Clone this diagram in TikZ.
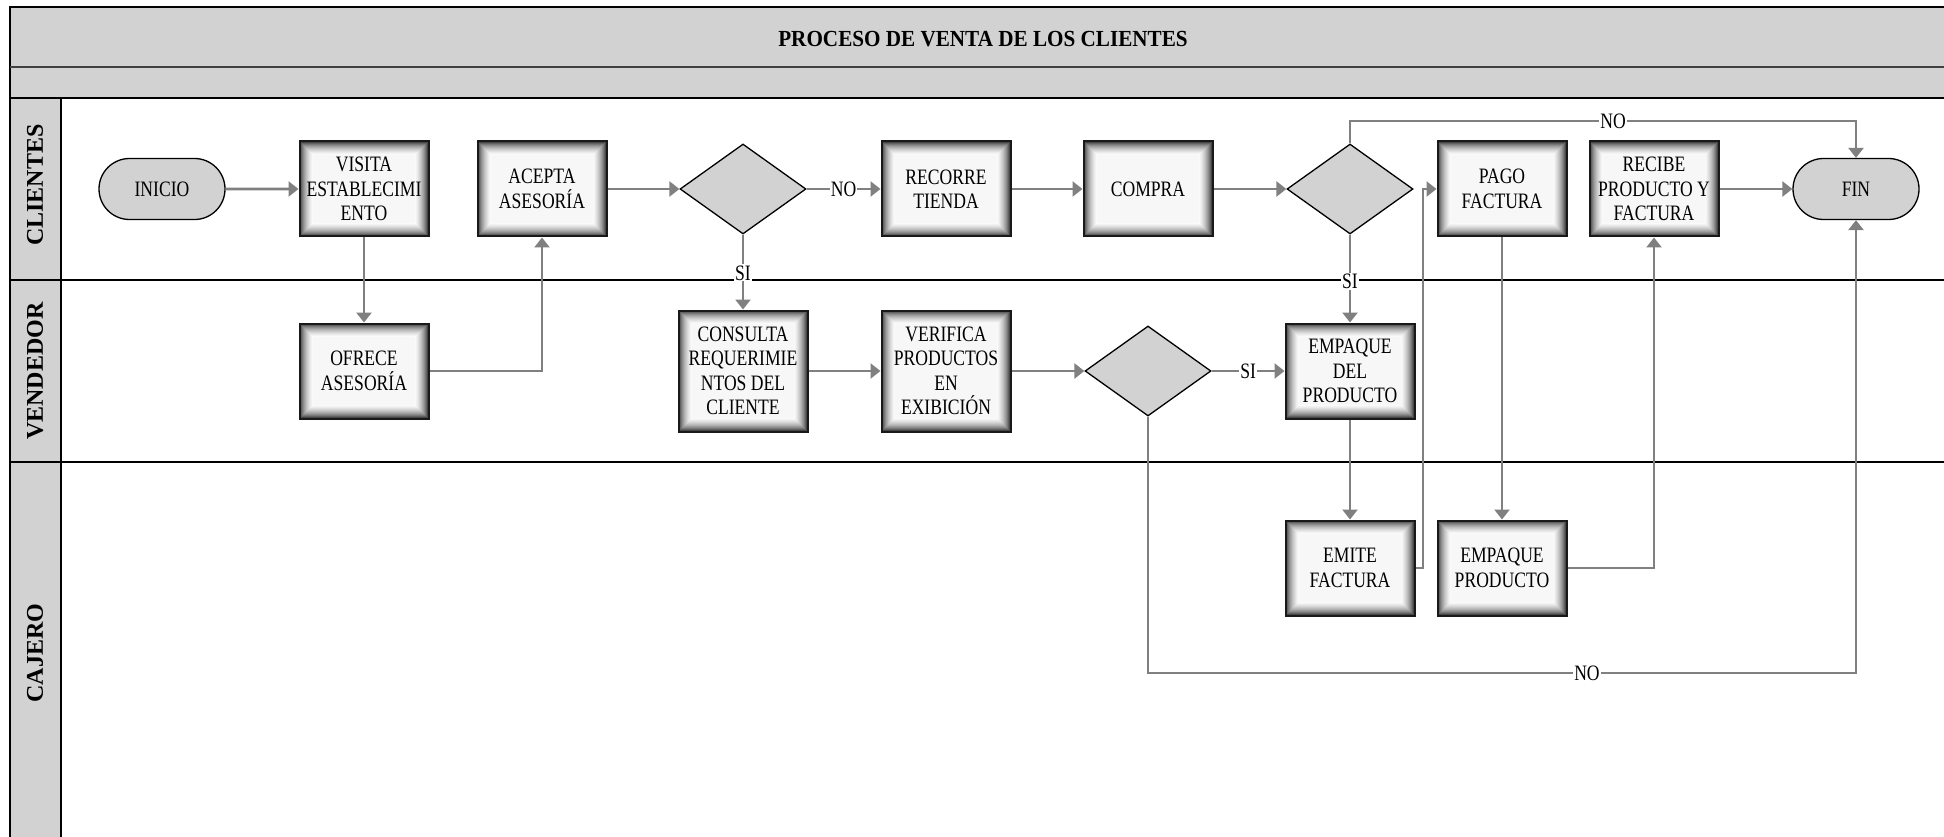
\documentclass[tikz,border=0pt]{standalone}
\usepackage{fontspec}
\setmainfont{Liberation Serif}
\newfontfamily\bxfont{Liberation Serif}[FakeStretch=0.8]
\newfontfamily\ttlfont{Liberation Serif}[FakeStretch=0.92]
\usetikzlibrary{shapes.geometric,shapes.misc,arrows.meta}
\definecolor{band}{RGB}{210,210,210}
\definecolor{conngray}{RGB}{128,128,128}
\begin{document}
\begin{tikzpicture}[x=1pt,y=-1pt,
  proc/.style={rectangle, draw=black!90, line width=2pt, fill=black!3,
    minimum width=129pt, minimum height=95pt, inner sep=0pt, align=center,
    font=\bxfont\fontsize{22}{24.5}\selectfont,
    path picture={\foreach \d/\c in {1pt/72,2pt/62,3pt/53,4pt/45,5pt/38,6pt/32,7pt/26,8pt/21,9pt/16,10pt/12,11pt/8,12pt/5,13pt/2}{
      \draw[black!\c,line width=1.1pt]([shift={(\d,-\d)}]path picture bounding box.north west) rectangle ([shift={(-\d,\d)}]path picture bounding box.south east);}}},
  decision/.style={diamond, draw=black, line width=1.3pt, fill=band,
    minimum width=126pt, minimum height=90pt, inner sep=0pt},
  term/.style={rounded rectangle, draw=black, line width=1.3pt, fill=band,
    minimum width=126pt, minimum height=61pt, inner sep=0pt,
    font=\bxfont\fontsize{22}{24.5}\selectfont},
  lane/.style={rotate=90, font=\fontsize{24}{28}\selectfont\bfseries, inner sep=0pt},
  conn/.style={draw=conngray, line width=2.6pt, -{Triangle[length=10pt,width=15pt]}},
  lbl/.style={fill=white, inner sep=1pt, text=black, font=\bxfont\fontsize{22}{24}\selectfont},
  rule/.style={draw=black, line width=2pt}
]
\useasboundingbox (0,0) rectangle (1944,837);
\fill[white] (0,0) rectangle (1944,837);
% bands and lanes
\fill[band] (10,7) rectangle (1944,98);
\fill[band] (10,98) rectangle (61,837);
\draw[rule] (1944,7) -- (10,7) -- (10,837);
\draw[draw=black!75, line width=1.5pt] (10,67) -- (1944,67);
\draw[rule] (10,98) -- (1944,98);
\draw[rule] (10,280) -- (1944,280);
\draw[rule] (10,462) -- (1944,462);
\draw[rule] (61,98) -- (61,837);
\node[font=\ttlfont\fontsize{23}{26}\selectfont\bfseries, inner sep=0pt] (title) at (983,39) {PROCESO DE VENTA DE LOS CLIENTES};
\node[lane] (lc) at (35,185) {CLIENTES};
\node[lane] (lv) at (35,371) {VENDEDOR};
\node[lane] (lj) at (35,653) {CAJERO};
% nodes
\node[term] (inicio) at (162,189) {INICIO};
\node[proc] (visita) at (364,189) {VISITA\\ESTABLECIMI\\ENTO};
\node[proc] (acepta) at (542,189) {ACEPTA\\ASESORÍA};
\node[decision] (d1) at (743,189) {};
\node[proc] (recorre) at (946,189) {RECORRE\\TIENDA};
\node[proc] (compra) at (1148,189) {COMPRA};
\node[decision] (d2) at (1350,189) {};
\node[proc] (pago) at (1502,189) {PAGO\\FACTURA};
\node[proc] (recibe) at (1654,189) {RECIBE\\PRODUCTO Y\\FACTURA};
\node[term] (fin) at (1856,189) {FIN};
\node[proc] (ofrece) at (364,371) {OFRECE\\ASESORÍA};
\node[proc, minimum height=121pt] (consulta) at (743,371) {CONSULTA\\REQUERIMIE\\NTOS DEL\\CLIENTE};
\node[proc, minimum height=121pt] (verifica) at (946,371) {VERIFICA\\PRODUCTOS\\EN\\EXIBICIÓN};
\node[decision] (d3) at (1148,371) {};
\node[proc] (emp1) at (1350,371) {EMPAQUE\\DEL\\PRODUCTO};
\node[proc] (emite) at (1350,568) {EMITE\\FACTURA};
\node[proc] (emp2) at (1502,568) {EMPAQUE\\PRODUCTO};
\coordinate (ytop) at (0,121);
\coordinate (ybot) at (0,673);
\coordinate (jx) at (1423,189);
% connectors
\draw[conn] (inicio) -- (visita);
\draw[conn] (visita) -- (ofrece);
\draw[conn] (ofrece.east) -| (acepta.south);
\draw[conn] (acepta) -- (d1);
\draw[conn] (d1) -- node[lbl]{NO} (recorre);
\draw[conn] (d1) -- node[lbl,pos=0.51]{SI} (consulta);
\draw[conn] (recorre) -- (compra);
\draw[conn] (compra) -- (d2);
\draw[conn] (d2.north) -- (d2.north |- ytop) -| node[lbl,pos=0.26]{NO} (fin.north);
\draw[conn] (d2) -- node[lbl,pos=0.53]{SI} (emp1);
\draw[conn] (consulta) -- (verifica);
\draw[conn] (verifica) -- (d3);
\draw[conn] (d3) -- node[lbl]{SI} (emp1);
\draw[conn] (d3.south) -- (d3.south |- ybot) -| node[lbl,pos=0.31]{NO} (fin.south);
\draw[conn] (emp1) -- (emite);
\draw[conn] (emite.east) -| (jx) -- (pago.west);
\draw[conn] (pago) -- (emp2);
\draw[conn] (emp2.east) -| (recibe.south);
\draw[conn] (recibe) -- (fin);
\end{tikzpicture}
\end{document}
